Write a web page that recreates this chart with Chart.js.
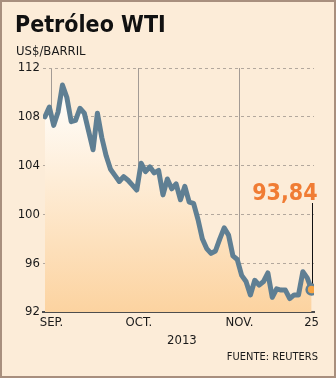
<!DOCTYPE html>
<html>
<head>
<meta charset="utf-8">
<script src="https://cdn.jsdelivr.net/npm/chart.js@4/dist/chart.umd.min.js"></script>
<style>
  html, body { margin: 0; padding: 0; background: #fcecd8; }
  #wrap { position: relative; width: 336px; height: 378px; overflow: hidden; background: #fcecd8;
          font-family: "DejaVu Sans Condensed", "DejaVu Sans", sans-serif; color: #1a1a1a; }
  #wrap canvas { position: absolute; left: 0; top: 0; }
  .t { position: absolute; white-space: nowrap; line-height: 1; }
  #title { left: 15px; top: 13px; font-size: 23px; font-weight: bold; color: #111; }
  #sub { left: 16px; top: 44px; font-size: 13px; }
  #year { left: 167px; top: 333px; font-size: 13px; }
  #src { right: 18px; top: 351px; font-size: 11px; }
  #border { position: absolute; left: 0; top: 0; width: 336px; height: 378px; box-sizing: border-box;
            border: 2px solid #a88f7e; pointer-events: none; }
</style>
</head>
<body>
<div id="wrap">
  <canvas id="c" width="336" height="378"></canvas>
  <div class="t" id="title">Petróleo WTI</div>
  <div class="t" id="sub">US$/BARRIL</div>
  <div class="t" id="year">2013</div>
  <div class="t" id="src">FUENTE: REUTERS</div>
  <div id="border"></div>
</div>
<script>
// ---- data (trading days, WTI US$/barrel) ----
const dates = [
  "2013-08-29","2013-08-30",
  "2013-09-03","2013-09-04","2013-09-05","2013-09-06","2013-09-09","2013-09-10","2013-09-11","2013-09-12","2013-09-13",
  "2013-09-16","2013-09-17","2013-09-18","2013-09-19","2013-09-20","2013-09-23","2013-09-24","2013-09-25","2013-09-26",
  "2013-09-27","2013-09-30",
  "2013-10-01","2013-10-02","2013-10-03","2013-10-04","2013-10-07","2013-10-08","2013-10-09","2013-10-10","2013-10-11",
  "2013-10-14","2013-10-15","2013-10-16","2013-10-17","2013-10-18","2013-10-21","2013-10-22","2013-10-23","2013-10-24",
  "2013-10-25","2013-10-28","2013-10-29","2013-10-30","2013-10-31",
  "2013-11-01","2013-11-04","2013-11-05","2013-11-06","2013-11-07","2013-11-08","2013-11-11","2013-11-12","2013-11-13",
  "2013-11-14","2013-11-15","2013-11-18","2013-11-19","2013-11-20","2013-11-21","2013-11-22","2013-11-25"
];
const prices = [
  108.0, 108.8,
  107.3, 108.4, 110.6, 109.6, 107.6, 107.7, 108.7, 108.3, 106.8,
  105.3, 108.3, 106.3, 104.8, 103.7, 103.2, 102.7, 103.1, 102.8,
  102.4, 102.0,
  104.2, 103.5, 103.9, 103.4, 103.6, 101.6, 102.9, 102.1, 102.5,
  101.2, 102.3, 101.0, 100.9, 99.6, 98.0, 97.2, 96.8, 97.0,
  98.0, 98.9, 98.3, 96.6, 96.3,
  95.0, 94.5, 93.4, 94.6, 94.2, 94.5, 95.2, 93.2, 93.9,
  93.8, 93.8, 93.1, 93.4, 93.4, 95.3, 94.8, 93.84
];
const monthLabels = ["SEP.", "OCT.", "NOV."];
const lastDayLabel = "25";
const yTicks = [92, 96, 100, 104, 108, 112];

// ---- derived tick positions (month boundaries from the dates) ----
const tickValues = [];
const tickText = {};
let m = 0;
for (let i = 1; i < dates.length; i++) {
  if (dates[i].slice(5, 7) !== dates[i - 1].slice(5, 7)) {
    const v = i - 0.5;
    tickValues.push(v);
    tickText[v] = monthLabels[m++];
  }
}
const lastIdx = prices.length - 1;
tickValues.push(lastIdx);
tickText[lastIdx] = lastDayLabel;

const points = prices.map((v, i) => ({ x: i, y: v }));

const FONT = "'DejaVu Sans Condensed', 'DejaVu Sans', sans-serif";
const lineColor = "#5f7f93";

const lastLabel = {
  id: "lastLabel",
  afterDatasetsDraw(chart) {
    const { ctx, scales } = chart;
    const x = scales.x.getPixelForValue(lastIdx);
    const y = scales.y.getPixelForValue(prices[lastIdx]);
    const txt = prices[lastIdx].toFixed(2).replace(".", ",");
    ctx.save();
    ctx.font = "bold 23px " + FONT;
    ctx.fillStyle = "#f07c34";
    ctx.textAlign = "right";
    ctx.textBaseline = "alphabetic";
    ctx.fillText(txt, x + 6, 200);
    ctx.strokeStyle = "#111";
    ctx.lineWidth = 1;
    ctx.beginPath();
    ctx.moveTo(Math.round(x) + 0.5, 203);
    ctx.lineTo(Math.round(x) + 0.5, y - 6);
    ctx.stroke();
    ctx.restore();
  }
};

new Chart(document.getElementById("c"), {
  type: "line",
  data: {
    datasets: [{
      data: points,
      borderColor: lineColor,
      borderWidth: 5,
      borderJoinStyle: "round",
      borderCapStyle: "round",
      tension: 0,
      fill: "start",
      backgroundColor: (ctx) => {
        const ca = ctx.chart.chartArea;
        if (!ca) return "rgba(252,214,166,0.6)";
        const g = ctx.chart.ctx.createLinearGradient(0, ca.top + 40, 0, ca.bottom);
        g.addColorStop(0, "#fffbf5");
        g.addColorStop(1, "#fcd3a0");
        return g;
      },
      pointRadius: (ctx) => ctx.dataIndex === lastIdx ? 5 : 0,
      pointBackgroundColor: "#f6a443",
      pointBorderColor: lineColor,
      pointBorderWidth: 2.5,
      pointHoverRadius: 0
    }]
  },
  options: {
    responsive: false,
    animation: false,
    events: [],
    layout: { padding: { left: 10, right: 22, top: 68, bottom: 46 } },
    plugins: { legend: { display: false }, tooltip: { enabled: false } },
    scales: {
      x: {
        type: "linear",
        min: -0.45,
        max: lastIdx + 0.55,
        afterFit: (s) => { s.height = 20; },
        afterBuildTicks: (s) => { s.ticks = tickValues.map(v => ({ value: v })); },
        ticks: {
          autoSkip: false,
          maxRotation: 0,
          padding: 3,
          color: "#1a1a1a",
          font: { family: FONT, size: 13 },
          callback: (v) => tickText[v] || ""
        },
        grid: {
          drawTicks: false,
          color: (c) => (c.tick && c.tick.value === lastIdx) ? "rgba(0,0,0,0)" : "#a39b95",
          lineWidth: 1
        },
        border: { display: true, color: "#4d4d4d", width: 2 }
      },
      y: {
        min: 92,
        max: 112,
        afterFit: (s) => { s.width = 33; },
        afterBuildTicks: (s) => { s.ticks = yTicks.map(v => ({ value: v })); },
        ticks: {
          padding: 3,
          color: "#1a1a1a",
          font: { family: FONT, size: 13 }
        },
        grid: {
          drawTicks: false,
          color: (c) => (c.tick && c.tick.value === 92) ? "rgba(0,0,0,0)" : "#b3a89d",
          lineWidth: 1
        },
        border: { display: false, dash: [3, 3] }
      }
    }
  },
  plugins: [lastLabel]
});
</script>
</body>
</html>
